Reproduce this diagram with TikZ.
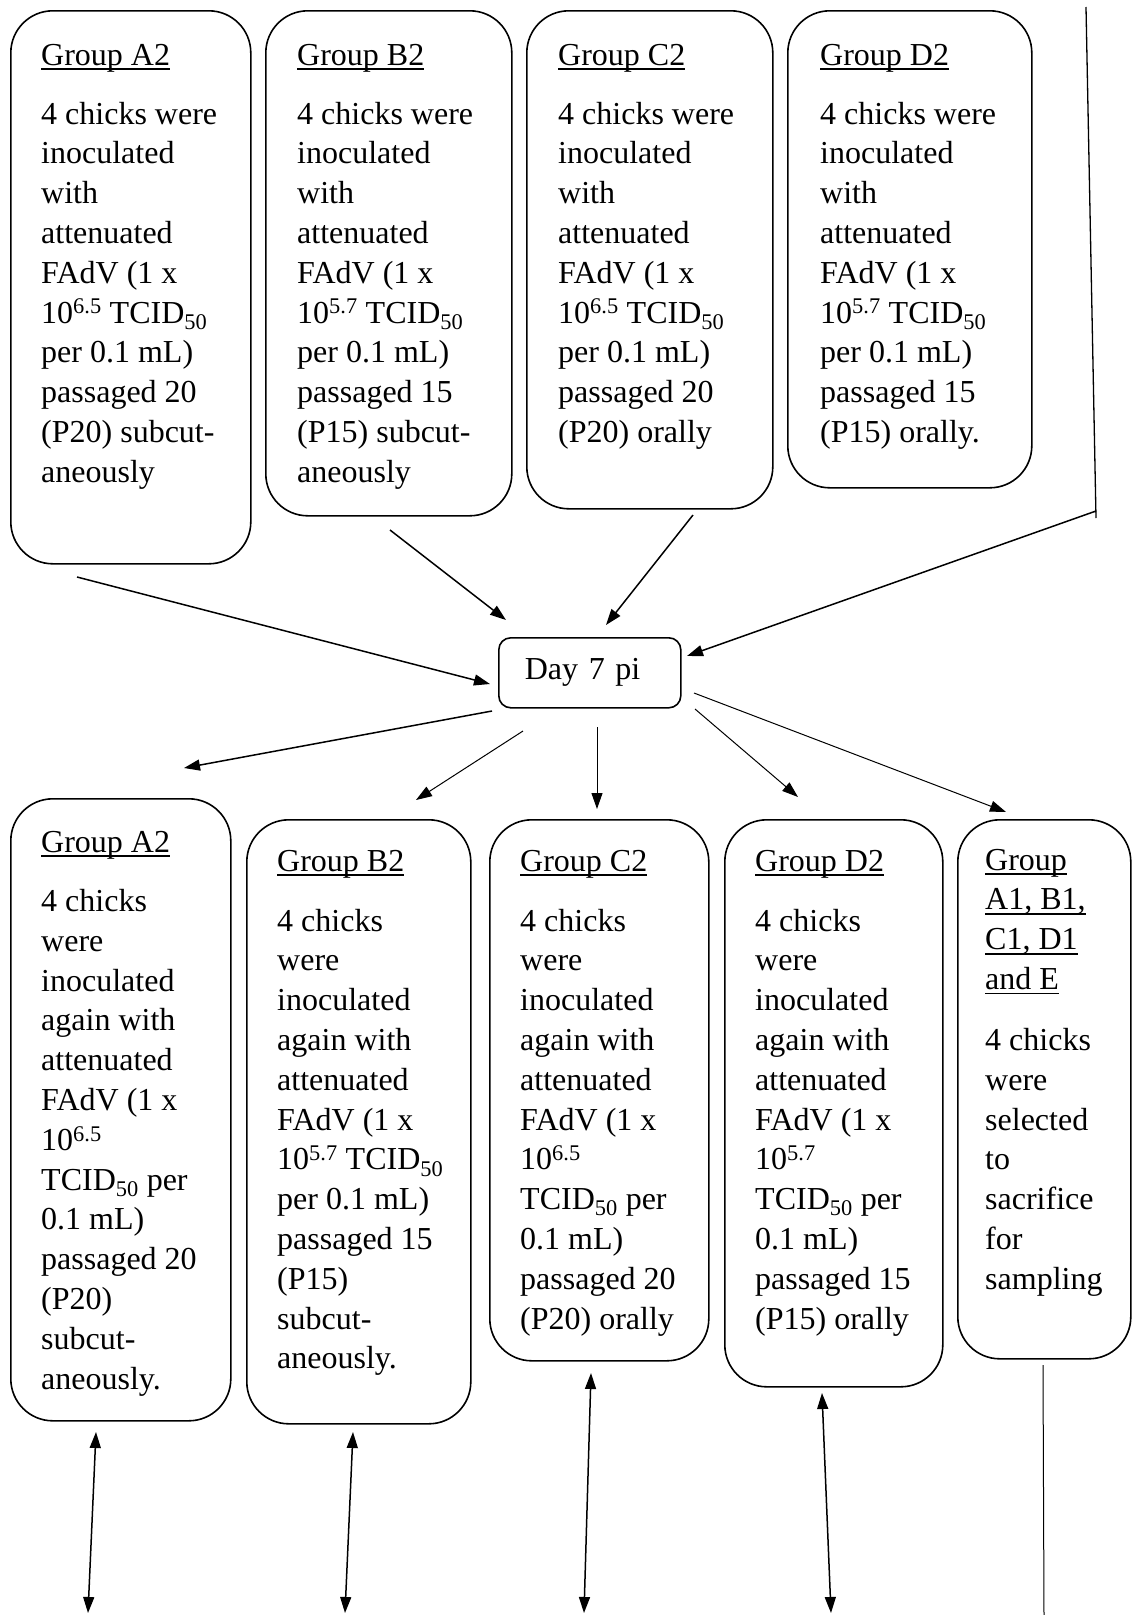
\documentclass[tikz,border=0pt]{standalone}
\usepackage{fontspec}
\setmainfont{Liberation Serif}
\usetikzlibrary{arrows.meta}
\newcommand\bxt[1]{\begin{tabular}[t]{@{}l@{}}#1\end{tabular}}
\newcommand\uln[1]{\setbox0=\hbox{#1}\rlap{\rule[-5pt]{\wd0}{1.8pt}}\box0}
\begin{document}
\begin{tikzpicture}[x=1pt,y=-1pt,
  gbox/.style={draw, line width=1.6pt, rounded corners=42pt, anchor=north west, inner sep=0pt},
  txt/.style={anchor=base west, inner sep=0pt, font=\fontsize{32}{39.8}\selectfont},
  tip/.tip={Triangle[length=16pt,width=11pt]},
  arr/.style={-tip, line width=1.5pt},
  thinarr/.style={-tip, line width=1pt},
  dblarr/.style={tip-tip, line width=1.5pt},
  plain/.style={line width=1.3pt}]
\useasboundingbox (0,0) rectangle (1133,1615);
\fill[white] (0,0) rectangle (1133,1615);

% ---------- top row boxes ----------
\node[gbox, minimum width=240pt, minimum height=553pt] (tA2) at (10,10) {};
\node[gbox, minimum width=246pt, minimum height=505pt] (tB2) at (265,10) {};
\node[gbox, minimum width=246pt, minimum height=498pt] (tC2) at (526,10) {};
\node[gbox, minimum width=244pt, minimum height=477pt] (tD2) at (787,10) {};

\node[txt] (ttA2) at (41,65) {\bxt{\uln{Group A2}\\[19.2pt]
4 chicks were\\ inoculated\\ with\\ attenuated\\ FAdV (1 x\\
10\textsuperscript{6.5} TCID\textsubscript{50}\\ per 0.1 mL)\\ passaged 20\\ (P20) subcut-\\ aneously}};
\node[txt] (ttB2) at (297,65) {\bxt{\uln{Group B2}\\[19.2pt]
4 chicks were\\ inoculated\\ with\\ attenuated\\ FAdV (1 x\\
10\textsuperscript{5.7} TCID\textsubscript{50}\\ per 0.1 mL)\\ passaged 15\\ (P15) subcut-\\ aneously}};
\node[txt] (ttC2) at (558,65) {\bxt{\uln{Group C2}\\[19.2pt]
4 chicks were\\ inoculated\\ with\\ attenuated\\ FAdV (1 x\\
10\textsuperscript{6.5} TCID\textsubscript{50}\\ per 0.1 mL)\\ passaged 20\\ (P20) orally}};
\node[txt] (ttD2) at (820,65) {\bxt{\uln{Group D2}\\[19.2pt]
4 chicks were\\ inoculated\\ with\\ attenuated\\ FAdV (1 x\\
10\textsuperscript{5.7} TCID\textsubscript{50}\\ per 0.1 mL)\\ passaged 15\\ (P15) orally.}};

% ---------- Day 7 pi ----------
\node[draw, line width=1.6pt, rounded corners=12pt, anchor=north west,
      minimum width=182pt, minimum height=70pt, inner xsep=26pt, inner ysep=0pt,
      text width=130pt, align=left, font=\fontsize{32}{39.8}\selectfont] (day) at (498,637) {Day 7 pi};

% ---------- bottom row boxes ----------
\node[gbox, minimum width=220pt, minimum height=622pt] (bA2) at (10,798) {};
\node[gbox, minimum width=224pt, minimum height=604pt] (bB2) at (246,819) {};
\node[gbox, minimum width=219pt, minimum height=541pt] (bC2) at (489,819) {};
\node[gbox, minimum width=218pt, minimum height=567pt] (bD2) at (724,819) {};
\node[gbox, minimum width=173pt, minimum height=539pt] (bA1) at (957,819) {};

\node[txt] (tbA2) at (41,852) {\bxt{\uln{Group A2}\\[19.7pt]
4 chicks\\ were\\ inoculated\\ again with\\ attenuated\\ FAdV (1 x\\ 10\textsuperscript{6.5}\\
TCID\textsubscript{50} per\\ 0.1 mL)\\ passaged 20\\ (P20)\\ subcut-\\ aneously.}};
\node[txt] (tbB2) at (277,871) {\bxt{\uln{Group B2}\\[20.2pt]
4 chicks\\ were\\ inoculated\\ again with\\ attenuated\\ FAdV (1 x\\
10\textsuperscript{5.7} TCID\textsubscript{50}\\ per 0.1 mL)\\ passaged 15\\ (P15)\\ subcut-\\ aneously.}};
\node[txt] (tbC2) at (520,871) {\bxt{\uln{Group C2}\\[20.2pt]
4 chicks\\ were\\ inoculated\\ again with\\ attenuated\\ FAdV (1 x\\ 10\textsuperscript{6.5}\\
TCID\textsubscript{50} per\\ 0.1 mL)\\ passaged 20\\ (P20) orally}};
\node[txt] (tbD2) at (755,871) {\bxt{\uln{Group D2}\\[20.2pt]
4 chicks\\ were\\ inoculated\\ again with\\ attenuated\\ FAdV (1 x\\ 10\textsuperscript{5.7}\\
TCID\textsubscript{50} per\\ 0.1 mL)\\ passaged 15\\ (P15) orally}};
\node[txt] (tbA1) at (985,870) {\bxt{\uln{Group}\\ \uln{A1, B1,}\\ \uln{C1, D1}\\ \uln{and E}\\[21.2pt]
4 chicks\\ were\\ selected\\ to\\ sacrifice\\ for\\ sampling}};

% ---------- connector end points ----------
\coordinate (sA2) at (77,577);
\coordinate (sB2) at (390,530);
\coordinate (sC2) at (693,515);
\coordinate (rTop) at (1086,7);
\coordinate (rBot) at (1096,518);
\coordinate (rJoin) at (1096,511);
\coordinate (dIn1) at (490,684);
\coordinate (dIn2) at (506,620);
\coordinate (dIn3) at (606,625);
\coordinate (dIn4) at (687,656);

\coordinate (o1s) at (492,711);  \coordinate (o1e) at (184,768);
\coordinate (o2s) at (523,731);  \coordinate (o2e) at (416,800);
\coordinate (o3s) at (597,727);  \coordinate (o3e) at (597,809);
\coordinate (o4s) at (695,709);  \coordinate (o4e) at (798,797);
\coordinate (o5s) at (694,693);  \coordinate (o5e) at (1006,812);

\coordinate (d1t) at (96,1432);  \coordinate (d1b) at (88,1613);
\coordinate (d2t) at (353,1432); \coordinate (d2b) at (345,1613);
\coordinate (d3t) at (591,1373); \coordinate (d3b) at (584,1613);
\coordinate (d4t) at (822,1393); \coordinate (d4b) at (831,1613);
\coordinate (eTop) at (1043,1365); \coordinate (eBot) at (1044,1615);

% ---------- connectors ----------
\draw[arr] (sA2) -- (dIn1);
\draw[arr] (sB2) -- (dIn2);
\draw[arr] (sC2) -- (dIn3);
\draw[plain] (rTop) -- (rBot);
\draw[arr] (rJoin) -- (dIn4);

\draw[arr] (o1s) -- (o1e);
\draw[thinarr] (o2s) -- (o2e);
\draw[thinarr] (o3s) -- (o3e);
\draw[thinarr] (o4s) -- (o4e);
\draw[thinarr] (o5s) -- (o5e);

\draw[dblarr] (d1t) -- (d1b);
\draw[dblarr] (d2t) -- (d2b);
\draw[dblarr] (d3t) -- (d3b);
\draw[dblarr] (d4t) -- (d4b);
\draw[line width=1pt] (eTop) -- (eBot);
\end{tikzpicture}
\end{document}
